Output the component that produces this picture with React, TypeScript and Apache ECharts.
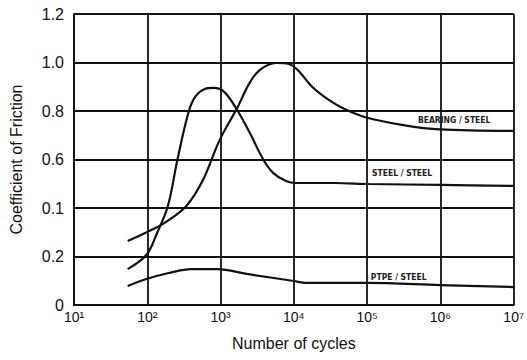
import React, { useEffect, useRef } from "react";
import * as echarts from "echarts";

const xTickLabels = ["10¹", "10²", "10³", "10⁴", "10⁵", "10⁶", "10⁷"];
const yTickLabels = ["0", "0.2", "0.1", "0.6", "0.8", "1.0", "1.2"];

const bearingX = [54, 100, 179, 341, 575, 970, 1685, 2436, 3415, 5754, 8577, 11300, 17900, 29300, 49300, 100000, 311000, 970000, 10000000];
const bearingY = [0.264, 0.301, 0.342, 0.408, 0.515, 0.68, 0.812, 0.911, 0.969, 0.998, 0.994, 0.969, 0.899, 0.848, 0.808, 0.772, 0.742, 0.724, 0.718];

const steelX = [54, 97, 136, 191, 259, 363, 450, 612, 807, 1130, 1685, 2512, 3860, 5250, 7820, 10630, 36300, 106000, 1030000, 10000000];
const steelY = [0.148, 0.206, 0.297, 0.408, 0.602, 0.792, 0.858, 0.891, 0.895, 0.878, 0.804, 0.709, 0.598, 0.544, 0.511, 0.503, 0.503, 0.499, 0.495, 0.491];

const ptfeX = [54, 97, 196, 398, 912, 2291, 10000, 14450, 100000, 1000000, 10000000];
const ptfeY = [0.078, 0.107, 0.132, 0.148, 0.148, 0.128, 0.099, 0.091, 0.091, 0.082, 0.074];

const seriesNames = ["BEARING / STEEL", "STEEL / STEEL", "PTPE / STEEL"];
const labelX = [1540000, 300000, 270000];
const labelY = [0.763, 0.544, 0.115];

const FONT = "'Liberation Sans', Arial, sans-serif";
const SMALL_FONT = "'DejaVu Sans Condensed', 'Liberation Sans', sans-serif";

function zip(xs: number[], ys: number[]) {
  return xs.map((x, i) => [x, ys[i]]);
}

export default function App() {
  const ref = useRef<HTMLDivElement>(null);
  useEffect(() => {
    if (!ref.current) return;
    const chart = echarts.init(ref.current, null, { renderer: "svg" });
    const datasets = [zip(bearingX, bearingY), zip(steelX, steelY), zip(ptfeX, ptfeY)];
    chart.setOption({
      animation: false,
      backgroundColor: "#ffffff",
      grid: { left: 73, right: 4, top: 14, bottom: 55, containLabel: false },
      xAxis: {
        type: "log",
        logBase: 10,
        min: 10,
        max: 10000000,
        splitNumber: 6,
        name: "Number of cycles",
        nameLocation: "middle",
        nameGap: 30,
        nameTextStyle: { fontFamily: FONT, fontSize: 16, color: "#111" },
        axisLine: { show: true, lineStyle: { color: "#111", width: 2 } },
        axisTick: { show: false },
        splitLine: { show: true, lineStyle: { color: "#111", width: 1.8 } },
        minorSplitLine: { show: false },
        axisLabel: {
          margin: 5,
          fontFamily: FONT,
          fontSize: 14,
          color: "#111",
          showMaxLabel: true,
          formatter: (v: number) => xTickLabels[Math.round(Math.log10(v)) - 1] ?? "",
        },
      },
      yAxis: {
        type: "value",
        min: 0,
        max: 1.2,
        interval: 0.2,
        name: "Coefficient of Friction",
        nameLocation: "middle",
        nameRotate: 90,
        nameGap: 50,
        nameTextStyle: { fontFamily: FONT, fontSize: 16, color: "#111" },
        axisLine: { show: true, lineStyle: { color: "#111", width: 2 } },
        axisTick: { show: false },
        splitLine: { show: true, lineStyle: { color: "#111", width: 1.8 } },
        axisLabel: {
          margin: 10,
          fontFamily: FONT,
          fontSize: 16,
          color: "#111",
          formatter: (v: number) => yTickLabels[Math.round(v / 0.2)] ?? "",
        },
      },
      series: datasets.map((d, i) => ({
        type: "line",
        name: seriesNames[i],
        data: d,
        smooth: 0.35,
        showSymbol: false,
        symbol: "none",
        lineStyle: { color: "#111", width: 2.2 },
        markPoint: {
          symbol: "rect",
          symbolSize: [1, 1],
          itemStyle: { color: "rgba(0,0,0,0)" },
          label: {
            show: true,
            position: "inside",
            formatter: seriesNames[i],
            fontFamily: SMALL_FONT,
            fontSize: 8.5,
            fontWeight: "bold",
            color: "#222",
          },
          data: [{ coord: [labelX[i], labelY[i]] }],
        },
      })),
    });
    return () => chart.dispose();
  }, []);
  return (
    <div
      ref={ref}
      style={{ position: "fixed", left: 0, top: 0, width: 527, height: 360 }}
    />
  );
}
